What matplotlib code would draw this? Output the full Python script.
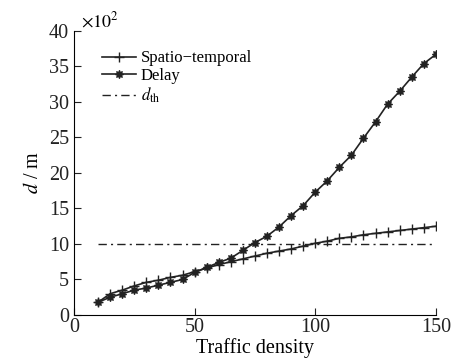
import numpy as np
import matplotlib
matplotlib.use("Agg")
import matplotlib.pyplot as plt

plt.rcParams['font.family'] = ['Liberation Serif', 'DejaVu Serif']
plt.rcParams['mathtext.fontset'] = 'stix'

# traffic density (x) and distances in units of 10^2 m
density = [10, 15, 20, 25, 30, 35, 40, 45, 50, 55, 60, 65, 70, 75, 80,
           85, 90, 95, 100, 105, 110, 115, 120, 125, 130, 135, 140, 145, 150]
spatio = [1.8, 3.0, 3.5, 4.1, 4.6, 4.9, 5.3, 5.6, 6.1, 6.6, 7.1, 7.5, 7.9, 8.3, 8.7,
          9.0, 9.3, 9.7, 10.1, 10.4, 10.8, 11.0, 11.3, 11.5, 11.7, 11.9, 12.1, 12.3, 12.5]
delay = [1.8, 2.5, 3.0, 3.5, 3.8, 4.2, 4.6, 5.0, 6.0, 6.7, 7.4, 8.0, 9.1, 10.2, 11.1,
         12.4, 14.0, 15.4, 17.3, 18.9, 20.8, 22.5, 24.9, 27.2, 29.7, 31.5, 33.5, 35.4, 36.7]
d_th = 10

fig = plt.figure(figsize=(4.54, 3.6), dpi=100)
ax = fig.add_axes([0.163, 0.125, 0.797, 0.789])

ax.plot(density, spatio, color='#222222', lw=1.2, marker='+', ms=7, mew=1.0,
        label='Spatio\u2212temporal')
ax.plot(density, delay, color='#222222', lw=1.2, marker=(8, 1, 0), ms=6,
        mew=0.8, label='Delay')
ax.plot([density[0], density[-1]], [d_th, d_th], color='#222222', lw=1.0,
        ls=(0, (6, 3, 1.5, 3)), label='$d_{\\rm th}$')

ax.set_xlim(0, 150)
ax.set_ylim(0, 40)
ax.set_xticks([0, 50, 100, 150])
ax.set_yticks(np.arange(0, 41, 5))
ax.spines['top'].set_visible(False)
ax.spines['right'].set_visible(False)
ax.tick_params(direction='in', length=5, labelsize=14.5, colors='#222222')
ax.tick_params(axis='x', pad=2)
ax.set_xlabel('Traffic density', fontsize=14.5, labelpad=1)
ax.set_ylabel('$d$ / m', fontsize=14.5, labelpad=4)
ax.text(0.02, 1.0, '$\\times 10^2$', transform=ax.transAxes, fontsize=13,
        ha='left', va='bottom')

ax.legend(loc='upper left', bbox_to_anchor=(0.06, 0.955), frameon=False,
          fontsize=12, handlelength=2.0, handletextpad=0.3,
          borderaxespad=0, labelspacing=0.1)

fig.savefig('out.png', dpi=100)
